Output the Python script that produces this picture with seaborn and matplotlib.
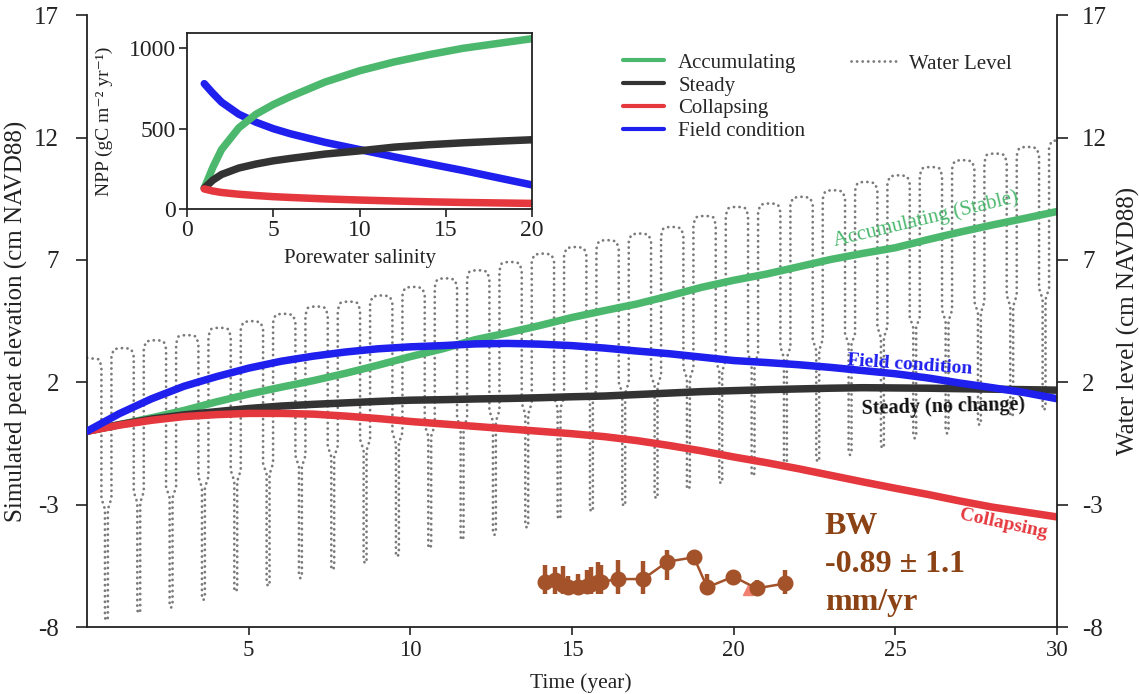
import numpy as np
import pandas as pd
import matplotlib
matplotlib.use("Agg")
import matplotlib.pyplot as plt
import seaborn as sns
from matplotlib.lines import Line2D

# ---------------- data ----------------
years = list(range(31))
accumulating = [0.0, 0.27, 0.55, 0.85, 1.2, 1.52, 1.8, 2.07, 2.37, 2.7, 3.05, 3.37, 3.74, 4.02,
                4.32, 4.65, 4.93, 5.2, 5.53, 5.88, 6.17, 6.42, 6.72, 7.02, 7.27, 7.5, 7.83, 8.14,
                8.43, 8.7, 8.98]
steady = [0.0, 0.27, 0.5, 0.67, 0.8, 0.93, 1.03, 1.1, 1.16, 1.22, 1.27, 1.29, 1.32, 1.34, 1.37,
          1.41, 1.44, 1.5, 1.56, 1.62, 1.66, 1.7, 1.73, 1.76, 1.78, 1.77, 1.76, 1.74, 1.72, 1.7, 1.68]
collapsing = [0.0, 0.25, 0.45, 0.6, 0.68, 0.73, 0.73, 0.7, 0.62, 0.52, 0.4, 0.3, 0.2, 0.1, 0.0,
              -0.1, -0.22, -0.38, -0.58, -0.8, -1.05, -1.28, -1.53, -1.8, -2.07, -2.33, -2.58,
              -2.85, -3.1, -3.3, -3.5]
field = [0.0, 0.72, 1.33, 1.84, 2.23, 2.58, 2.86, 3.07, 3.24, 3.37, 3.45, 3.5, 3.57, 3.59, 3.56,
         3.5, 3.4, 3.28, 3.17, 3.03, 2.89, 2.81, 2.72, 2.61, 2.48, 2.35, 2.18, 1.97, 1.78, 1.58, 1.33]

# water level: yearly drawdown events
wl_drawdown_time = [0.6, 1.6, 2.6, 3.6, 4.6, 5.6, 6.6, 7.6, 8.6, 9.6, 10.6, 11.6, 12.6, 13.6, 14.6,
                    15.6, 16.6, 17.6, 18.6, 19.6, 20.6, 21.6, 22.6, 23.6, 24.6, 25.6, 26.6, 27.6,
                    28.6, 29.6]
wl_high = [3.0, 3.4, 3.72, 3.93, 4.23, 4.5, 4.8, 5.1, 5.3, 5.55, 5.9, 6.25, 6.58, 6.92, 7.26, 7.53,
           7.81, 8.08, 8.35, 8.8, 9.17, 9.31, 9.58, 9.85, 10.19, 10.46, 10.8, 11.08, 11.35, 11.62, 11.9]
wl_knee = [-2.74, -2.47, -2.27, -1.86, -1.59, -1.31, -1.0, -0.6, -0.33, -0.05, 0.25, 0.55, 0.85,
           1.15, 1.4, 1.7, 2.0, 2.3, 2.6, 2.9, 3.17, 3.45, 3.75, 4.0, 4.27, 4.68, 4.95, 5.29, 5.56, 5.84]
wl_low = [-7.74, -7.44, -7.21, -6.9, -6.56, -6.33, -6.01, -5.67, -5.4, -5.13, -4.79, -4.45, -4.24,
          -3.94, -3.6, -3.29, -3.06, -2.75, -2.38, -2.13, -1.83, -1.52, -1.25, -0.97, -0.7, -0.29,
          -0.09, 0.25, 0.59, 0.86]

# BW observations
bw_time = [14.16, 14.47, 14.73, 14.88, 15.19, 15.45, 15.6, 15.81, 15.91, 16.43, 17.2, 17.95,
           18.77, 19.18, 19.99, 20.71, 21.59]
bw_elev = [-6.15, -6.08, -6.28, -6.38, -6.38, -6.33, -6.25, -6.15, -6.15, -6.04, -6.04, -5.33,
           -5.15, -6.38, -5.94, -6.42, -6.22]
bw_upper = [-5.47, -5.55, -5.5, -5.9, -5.85, -5.65, -5.55, -5.35, -5.45, -5.26, -5.3, -4.85,
            -5.15, -5.84, -5.94, -6.08, -5.67]
bw_lower = [-6.66, -6.66, -6.66, -6.66, -6.66, -6.66, -6.66, -6.66, -6.66, -6.66, -6.66, -6.08,
            -5.47, -6.66, -6.2, -6.66, -6.66]

# inset: NPP vs salinity
salinity = [1, 1.5, 2, 3, 4, 5, 6, 8, 10, 12, 14, 16, 18, 20]
npp_accumulating = [130, 260, 370, 505, 590, 650, 700, 790, 860, 915, 960, 1000, 1030, 1060]
npp_steady = [130, 180, 215, 255, 280, 300, 315, 342, 362, 385, 400, 412, 422, 431]
npp_collapsing = [125, 112, 103, 92, 84, 77, 72, 63, 56, 50, 45, 41, 38, 35]
npp_field = [780, 720, 665, 590, 540, 500, 468, 415, 370, 325, 282, 240, 195, 150]

# ---------------- style ----------------
sns.set_theme(style="white")
plt.rcParams["font.family"] = ["Liberation Serif", "DejaVu Serif"]
plt.rcParams["axes.unicode_minus"] = False

C_GREEN = "#4cb86e"
C_BLACK = "#333333"
C_RED = "#e5383e"
C_BLUE = "#1f1fee"
C_BROWN = "#a3522a"
C_BROWN_TXT = "#8b4214"
C_WL = "#7a7a7a"
C_AX = "#222222"

fig = plt.figure(figsize=(11.39, 6.94), dpi=100)
ax = fig.add_axes([0.0764, 0.0965, 0.8516, 0.8815])

# ---- water level path built from the yearly values ----
hw, nw = 0.155, 0.045
wx, wy = [0.0], [wl_high[0]]
for k, c in enumerate(wl_drawdown_time):
    a_prev, a_next = wl_high[k], wl_high[k + 1]
    m, lo = wl_knee[k], wl_low[k]
    wx += [c - hw - 0.07, c - hw, c - hw, c - nw, c - nw, c, c + nw, c + nw, c + hw, c + hw,
           c + hw + 0.07]
    wy += [a_prev - 0.06, a_prev - 0.35, m, m - 0.45, lo + 0.12, lo, lo + 0.12, m - 0.45, m,
           a_next - 0.35, a_next - 0.06]
    if k + 1 < len(wl_drawdown_time):
        nxt = wl_drawdown_time[k + 1]
        x0, x1 = c + hw + 0.07, nxt - hw - 0.07
        wx += [x0 + (x1 - x0) * f for f in (0.25, 0.5, 0.75)]
        wy += [a_next - 0.01, a_next, a_next - 0.01]
    else:
        wx += [30.0]
        wy += [a_next]
ax.plot(wx, wy, color=C_WL, lw=2.0, linestyle=(0, (0.05, 1.95)), dash_capstyle="round",
        zorder=1)

# ---- simulated peat elevation curves ----
df = pd.DataFrame({
    "Time": years * 4,
    "Elevation": accumulating + steady + collapsing + field,
    "Scenario": (["Accumulating"] * 31 + ["Steady"] * 31 + ["Collapsing"] * 31
                 + ["Field condition"] * 31),
})
palette = {"Accumulating": C_GREEN, "Steady": C_BLACK, "Collapsing": C_RED,
           "Field condition": C_BLUE}
for name in ["Accumulating", "Steady", "Collapsing", "Field condition"]:
    sns.lineplot(data=df[df["Scenario"] == name], x="Time", y="Elevation", color=palette[name],
                 linewidth=5.4, ax=ax, legend=False, zorder=3)

# ---- BW observations ----
yerr = [np.array(bw_elev) - np.array(bw_lower), np.array(bw_upper) - np.array(bw_elev)]
ax.errorbar(bw_time, bw_elev, yerr=yerr, fmt="-o", color=C_BROWN, ms=10.5, lw=1.8,
            elinewidth=3.2, capsize=0, zorder=5)
ax.plot([20.45], [-6.5], marker="^", color="#f08070", ms=7, zorder=4, lw=0)

# ---- axes ----
ax.set_xlim(0, 30)
ax.set_ylim(-8, 17)
ax.set_xticks([5, 10, 15, 20, 25, 30])
ax.set_yticks([-8, -3, 2, 7, 12, 17])
ax.tick_params(axis="y", direction="out", length=8, width=1.2, labelsize=18, pad=12,
               colors=C_AX, left=True)
ax.tick_params(axis="x", direction="out", length=6, width=1.2, labelsize=16.5, pad=3,
               colors=C_AX, bottom=True)
for s in ["top", "right"]:
    ax.spines[s].set_visible(False)
for s in ["left", "bottom"]:
    ax.spines[s].set_linewidth(1.3)
    ax.spines[s].set_color(C_AX)
ax.set_xlabel("Time (year)", fontsize=15.5, color=C_AX)
ax.set_ylabel("Simulated peat elevation (cm NAVD88)", fontsize=18, color=C_AX)
ax.xaxis.set_label_coords(0.509, -0.075)
ax.yaxis.set_label_coords(-0.061, 0.5)

ax2 = ax.twinx()
ax2.set_ylim(-8, 17)
ax2.set_yticks([-8, -3, 2, 7, 12, 17])
ax2.tick_params(axis="y", direction="out", length=8, width=1.2, labelsize=18, pad=10,
                colors=C_AX, right=True)
for s in ["top", "left", "bottom"]:
    ax2.spines[s].set_visible(False)
ax2.spines["right"].set_linewidth(1.3)
ax2.spines["right"].set_color(C_AX)
ax2.set_ylabel("Water level (cm NAVD88)", fontsize=18, color=C_AX, rotation=90)
ax2.yaxis.set_label_coords(1.062, 0.5)

# ---- annotations ----
ax.text(25.95, 8.65, "Accumulating (Stable)", color=C_GREEN, fontsize=15, rotation=13.5,
        ha="center", va="center", zorder=6)
ax.text(25.45, 2.72, "Field condition", color=C_BLUE, fontsize=14, fontweight="bold",
        rotation=-4, ha="center", va="center", zorder=6)
ax.text(26.5, 1.0, "Steady (no change)", color="#111111", fontsize=14.5, fontweight="bold",
        rotation=1.5, ha="center", va="center", zorder=6)
ax.text(28.35, -3.8, "Collapsing", color=C_RED, fontsize=14, fontweight="bold",
        rotation=-12, ha="center", va="center", zorder=6)
ax.text(22.82, -3.3, "BW\n-0.89 \u00b1 1.1\nmm/yr", color=C_BROWN_TXT, fontsize=23,
        fontweight="bold", ha="left", va="top", linespacing=1.42, zorder=6)

# ---- legends ----
h1 = [Line2D([], [], color=c, lw=3) for c in (C_GREEN, C_BLACK, C_RED, C_BLUE)]
fig.legend(h1, ["Accumulating", "Steady", "Collapsing", "Field condition"],
           loc="upper left", bbox_to_anchor=(623 / 1139, 1 - 53 / 694), frameon=False,
           fontsize=15, handlelength=1.95, handletextpad=0.7, labelspacing=0.16,
           borderpad=0, borderaxespad=0)
h2 = [Line2D([], [], color=C_WL, lw=2.0, linestyle=(0, (0.05, 1.95)), dash_capstyle="round")]
fig.legend(h2, ["Water Level"], loc="upper left",
           bbox_to_anchor=(851 / 1139, 1 - 54 / 694), frameon=False, fontsize=15,
           handlelength=2.2, handletextpad=0.6, borderpad=0, borderaxespad=0)

# ---- inset ----
axi = fig.add_axes([0.1642, 0.6988, 0.3029, 0.2536])
dfi = pd.DataFrame({
    "Salinity": salinity * 4,
    "NPP": npp_accumulating + npp_steady + npp_collapsing + npp_field,
    "Scenario": (["Accumulating"] * len(salinity) + ["Steady"] * len(salinity)
                 + ["Collapsing"] * len(salinity) + ["Field condition"] * len(salinity)),
})
for name in ["Field condition", "Accumulating", "Steady", "Collapsing"]:
    sns.lineplot(data=dfi[dfi["Scenario"] == name], x="Salinity", y="NPP",
                 color=palette[name], linewidth=5.4, ax=axi, legend=False)
axi.set_xlim(0, 20)
axi.set_ylim(0, 1095)
axi.set_xticks([0, 5, 10, 15, 20])
axi.set_yticks([0, 500, 1000])
axi.tick_params(direction="out", length=6, width=1.2, labelsize=17, pad=2, colors=C_AX,
                left=True, bottom=True)
for s in axi.spines.values():
    s.set_linewidth(1.3)
    s.set_color(C_AX)
axi.set_xlabel("Porewater salinity", fontsize=15, color=C_AX)
axi.set_ylabel("NPP (gC m\u207b\u00b2 yr\u207b\u00b9)", fontsize=14, color=C_AX)
axi.xaxis.set_label_coords(0.5, -0.225)
axi.yaxis.set_label_coords(-0.215, 0.5)
axi.set_facecolor("white")

fig.savefig("out.png", dpi=100)
